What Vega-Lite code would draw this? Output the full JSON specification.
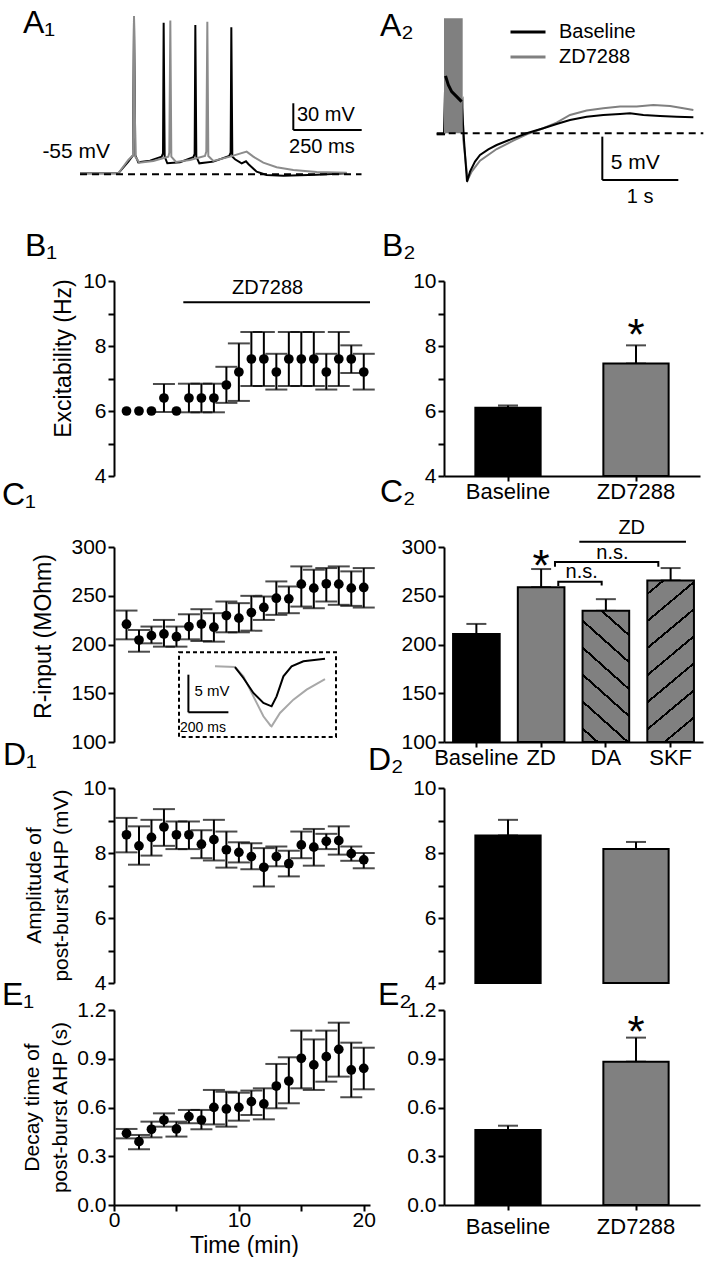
{
"$schema":"https://vega.github.io/schema/vega-lite/v6.json",
"background":"white",
"padding":{"left":2,"top":6,"right":0,"bottom":0},
"config":{
 "font":"Liberation Sans",
 "view":{"stroke":null},
 "axis":{"domainColor":"black","domainWidth":2,"tickColor":"black","tickWidth":2,"tickSize":6,"labelFontSize":21,"labelColor":"black","labelPadding":2,"titleFontSize":23,"titleColor":"black","titleFontWeight":"normal","grid":false,"labelFont":"Liberation Sans","titleFont":"Liberation Sans"},
 "title":{"fontSize":32,"fontWeight":"normal","anchor":"start","color":"black","font":"Liberation Sans","frame":"group","offset":0},
 "text":{"font":"Liberation Sans","color":"black"},
 "legend":{"labelFont":"Liberation Sans","labelColor":"black"}
},
"bounds":"flush",
"align":"each",
"columns":2,
"spacing":{"row":0,"column":74},
"concat":[
 {"width":256,"height":150,
  "title":{"text":"A₁","dx":-91,"dy":57,"baseline":"alphabetic"},
  "encoding":{
   "x":{"field":"t","type":"quantitative","scale":{"domain":[124.4,1061.1],"nice":false,"zero":false},"axis":null},
   "y":{"field":"v","type":"quantitative","scale":{"domain":[-72.66,96.07],"nice":false,"zero":false},"axis":null}},
  "layer":[
   {"data":{"values":[{"t":0,"v":-53.88},{"t":140.2,"v":-53.88},{"t":176.8,"v":-40.75},{"t":193.9,"v":-33.63},{"t":197.6,"v":120.5},{"t":202.4,"v":-33.63},{"t":213.4,"v":-41.5},{"t":256.1,"v":-39.63},{"t":298.8,"v":-35.13},{"t":303.7,"v":-31.38},{"t":306.1,"v":115.6},{"t":309.8,"v":-35.13},{"t":319.5,"v":-42.63},{"t":365.9,"v":-41.5},{"t":414.6,"v":-35.88},{"t":419.5,"v":-32.13},{"t":422,"v":113.0},{"t":425.6,"v":-35.13},{"t":436.6,"v":-42.63},{"t":487.8,"v":-40.75},{"t":546.3,"v":-34.38},{"t":551.2,"v":-30.63},{"t":553.7,"v":110.4},{"t":557.3,"v":-35.13},{"t":567.1,"v":-38.13},{"t":591.5,"v":-42.63},{"t":607.3,"v":-40.38},{"t":615.9,"v":-43.38},{"t":646.3,"v":-52.0},{"t":682.9,"v":-55.75},{"t":743.9,"v":-56.5},{"t":865.9,"v":-55.38},{"t":975.6,"v":-53.88}]},
    "mark":{"type":"line","color":"black","strokeWidth":2}},
   {"data":{"values":[{"t":0,"v":-53.88},{"t":140.2,"v":-53.88},{"t":176.8,"v":-38.88},{"t":193.9,"v":-33.63},{"t":197.6,"v":123.1},{"t":202.4,"v":-35.13},{"t":217.1,"v":-41.88},{"t":268.3,"v":-40.0},{"t":323.2,"v":-35.13},{"t":326.8,"v":-30.63},{"t":330.5,"v":117.9},{"t":334.1,"v":-35.13},{"t":351.2,"v":-41.13},{"t":402.4,"v":-38.88},{"t":457.3,"v":-34.38},{"t":462.2,"v":-29.5},{"t":465.9,"v":116.7},{"t":469.5,"v":-34.38},{"t":487.8,"v":-40.0},{"t":548.8,"v":-35.13},{"t":609.8,"v":-29.5},{"t":634.1,"v":-35.13},{"t":670.7,"v":-41.88},{"t":719.5,"v":-47.13},{"t":780.5,"v":-50.13},{"t":865.9,"v":-52.38},{"t":975.6,"v":-53.13}]},
    "mark":{"type":"line","color":"#8c8c8c","strokeWidth":2}},
   {"data":{"values":[{"t":0,"t2":1030,"v":-55}]},"mark":{"type":"rule","color":"black","strokeWidth":2,"strokeDash":[7,5]},"encoding":{"x2":{"field":"t2"}}},
   {"data":{"values":[{"t":780.5,"v":24.9,"t2":780.5,"v2":-5.2},{"t":780.5,"v":-5.2,"t2":1030.7,"v2":-5.2}]},"mark":{"type":"rule","color":"black","strokeWidth":2},"encoding":{"x2":{"field":"t2"},"y2":{"field":"v2"}}},
   {"data":{"values":[{"t":110,"v":-29.9,"label":"-55 mV"}]},"mark":{"type":"text","align":"right","baseline":"middle","fontSize":21},"encoding":{"text":{"field":"label","type":"nominal"}}},
   {"data":{"values":[{"t":794,"v":11.7,"label":"30 mV"}]},"mark":{"type":"text","align":"left","baseline":"middle","fontSize":20},"encoding":{"text":{"field":"label","type":"nominal"}}},
   {"data":{"values":[{"t":885,"v":-24,"label":"250 ms"}]},"mark":{"type":"text","align":"center","baseline":"middle","fontSize":20},"encoding":{"text":{"field":"label","type":"nominal"}}}
  ]},
 {"width":260,"height":150,
  "title":{"text":"A₂","dx":-64,"dy":54,"baseline":"alphabetic"},
  "encoding":{
   "x":{"field":"t","type":"quantitative","scale":{"domain":[0,3.421],"nice":false,"zero":false},"axis":null},
   "y":{"field":"v","type":"quantitative","scale":{"domain":[-6.54,10.76],"nice":false,"zero":false},"axis":null}},
  "layer":[
   {"data":{"values":[
     {"cond":"ZD7288","t":-0.096,"v":-0.115},{"cond":"ZD7288","t":0,"v":-0.115},{"cond":"ZD7288","t":0.246,"v":3.85},{"cond":"ZD7288","t":0.254,"v":-0.77},{"cond":"ZD7288","t":0.311,"v":-5.38},{"cond":"ZD7288","t":0.364,"v":-4.42},{"cond":"ZD7288","t":0.474,"v":-3.15},{"cond":"ZD7288","t":0.693,"v":-1.81},{"cond":"ZD7288","t":0.912,"v":-0.85},{"cond":"ZD7288","t":1.088,"v":-0.115},{"cond":"ZD7288","t":1.307,"v":0.58},{"cond":"ZD7288","t":1.482,"v":1.23},{"cond":"ZD7288","t":1.658,"v":2.12},{"cond":"ZD7288","t":1.877,"v":2.62},{"cond":"ZD7288","t":2.096,"v":2.88},{"cond":"ZD7288","t":2.316,"v":3.08},{"cond":"ZD7288","t":2.535,"v":3.08},{"cond":"ZD7288","t":2.754,"v":3.27},{"cond":"ZD7288","t":2.974,"v":3.15},{"cond":"ZD7288","t":3.149,"v":2.88},{"cond":"ZD7288","t":3.281,"v":2.69},
     {"cond":"Baseline","t":-0.096,"v":-0.115},{"cond":"Baseline","t":0,"v":-0.115},{"cond":"Baseline","t":0.0175,"v":6.62},{"cond":"Baseline","t":0.057,"v":5.58},{"cond":"Baseline","t":0.101,"v":4.81},{"cond":"Baseline","t":0.167,"v":4.23},{"cond":"Baseline","t":0.232,"v":3.65},{"cond":"Baseline","t":0.263,"v":-0.77},{"cond":"Baseline","t":0.303,"v":-5.58},{"cond":"Baseline","t":0.342,"v":-4.42},{"cond":"Baseline","t":0.408,"v":-3.27},{"cond":"Baseline","t":0.474,"v":-2.5},{"cond":"Baseline","t":0.583,"v":-1.85},{"cond":"Baseline","t":0.693,"v":-1.35},{"cond":"Baseline","t":0.912,"v":-0.58},{"cond":"Baseline","t":1.088,"v":0},{"cond":"Baseline","t":1.307,"v":0.58},{"cond":"Baseline","t":1.482,"v":1.08},{"cond":"Baseline","t":1.658,"v":1.54},{"cond":"Baseline","t":1.877,"v":1.92},{"cond":"Baseline","t":2.096,"v":2.12},{"cond":"Baseline","t":2.316,"v":2.23},{"cond":"Baseline","t":2.447,"v":2.31},{"cond":"Baseline","t":2.623,"v":2.12},{"cond":"Baseline","t":2.842,"v":2.0},{"cond":"Baseline","t":3.061,"v":1.92},{"cond":"Baseline","t":3.281,"v":1.85}]},
    "mark":{"type":"line","strokeWidth":2},
    "encoding":{"color":{"field":"cond","type":"nominal","scale":{"domain":["Baseline","ZD7288"],"range":["black","#808080"]},
      "legend":{"orient":"none","legendX":395,"legendY":-19,"title":null,"symbolType":"stroke","symbolSize":1225,"symbolStrokeWidth":3,"labelFontSize":20,"labelOffset":12,"clipHeight":22,"rowPadding":3,"padding":0}}}},
   {"data":{"values":[{"t":0,"t2":0.246,"v":0,"v2":13.27}]},"mark":{"type":"rect","color":"#808080"},"encoding":{"x2":{"field":"t2"},"y2":{"field":"v2"}}},
   {"data":{"values":[{"t":0.02,"v":6.62},{"t":0.057,"v":5.58},{"t":0.101,"v":4.81},{"t":0.167,"v":4.23},{"t":0.232,"v":3.65}]},"mark":{"type":"line","color":"black","strokeWidth":3}},
   {"data":{"values":[{"t":-0.096,"t2":3.412,"v":0}]},"mark":{"type":"rule","color":"black","strokeWidth":2,"strokeDash":[7,5]},"encoding":{"x2":{"field":"t2"}}},
   {"data":{"values":[{"t":2.083,"v":-0.385,"t2":2.083,"v2":-5.385},{"t":2.083,"v":-5.385,"t2":3.083,"v2":-5.385}]},"mark":{"type":"rule","color":"black","strokeWidth":2},"encoding":{"x2":{"field":"t2"},"y2":{"field":"v2"}}},
   {"data":{"values":[{"t":2.193,"v":-3.46,"label":"5 mV"}]},"mark":{"type":"text","align":"left","baseline":"middle","fontSize":21},"encoding":{"text":{"field":"label","type":"nominal"}}},
   {"data":{"values":[{"t":2.58,"v":-7.35,"label":"1 s"}]},"mark":{"type":"text","align":"center","baseline":"middle","fontSize":20},"encoding":{"text":{"field":"label","type":"nominal"}}}
  ]},
 {"width":256,"height":286,
  "title":{"text":"B₁","dx":-89,"dy":102,"baseline":"alphabetic"},
  "encoding":{
   "x":{"field":"t","type":"quantitative","scale":{"domain":[0,20.5],"nice":false,"zero":false},"axis":null},
   "y":{"field":"m","type":"quantitative","scale":{"domain":[4,10],"range":[286,91],"nice":false,"zero":false},
     "axis":{"values":[4,5,6,7,8,9,10],"labelExpr":"datum.value % 2 === 0 ? datum.label : ''","labelOverlap":false,"title":"Excitability (Hz)","titleX":-44,"titleY":168,"titleAlign":"center","titleBaseline":"alphabetic","titleAngle":-90}}},
  "layer":[
   {"data":{"values":[{"t":1,"m":6.0},{"t":2,"m":6.0},{"t":3,"m":6.0},{"t":4,"m":6.4,"lo":5.97,"hi":6.83},{"t":5,"m":6.0},{"t":6,"m":6.4,"lo":5.96,"hi":6.84},{"t":7,"m":6.4,"lo":5.96,"hi":6.84},{"t":8,"m":6.4,"lo":5.96,"hi":6.84},{"t":9,"m":6.8,"lo":6.25,"hi":7.36},{"t":10,"m":7.2,"lo":6.31,"hi":8.08},{"t":11,"m":7.6,"lo":6.77,"hi":8.43},{"t":12,"m":7.6,"lo":6.77,"hi":8.43},{"t":13,"m":7.2,"lo":6.66,"hi":7.76},{"t":14,"m":7.6,"lo":6.77,"hi":8.43},{"t":15,"m":7.6,"lo":6.77,"hi":8.43},{"t":16,"m":7.6,"lo":6.77,"hi":8.43},{"t":17,"m":7.2,"lo":6.66,"hi":7.76},{"t":18,"m":7.6,"lo":6.77,"hi":8.43},{"t":19,"m":7.6,"lo":7.17,"hi":8.02},{"t":20,"m":7.2,"lo":6.66,"hi":7.76}]},
    "layer":[
     {"transform":[{"filter":"isValid(datum.lo)"}],"mark":{"type":"errorbar","thickness":2,"color":"black","ticks":{"size":22,"thickness":2,"color":"black"}},
      "encoding":{"y":{"field":"lo","type":"quantitative","scale":{"domain":[4,10],"range":[286,91],"nice":false,"zero":false},
        "axis":{"values":[4,5,6,7,8,9,10],"labelExpr":"datum.value % 2 === 0 ? datum.label : ''","labelOverlap":false,"title":"Excitability (Hz)","titleX":-44,"titleY":168,"titleAlign":"center","titleBaseline":"alphabetic","titleAngle":-90}},"y2":{"field":"hi"}}},
     {"mark":{"type":"point","filled":true,"size":95,"color":"black","opacity":1}}
    ]},
   {"data":{"values":[{"t":5.55,"t2":20.5,"m":9.35}]},"mark":{"type":"rule","color":"black","strokeWidth":2},"encoding":{"x2":{"field":"t2"}}},
   {"data":{"values":[{"t":12.3,"m":9.78,"label":"ZD7288"}]},"mark":{"type":"text","fontSize":20,"baseline":"middle","align":"center"},"encoding":{"text":{"field":"label","type":"nominal"}}}
  ]},
 {"width":256,"height":286,
  "title":{"text":"B₂","dx":-62,"dy":102,"baseline":"alphabetic"},
  "data":{"values":[{"cond":"Baseline","m":6.1,"hi":6.17},{"cond":"ZD7288","m":7.46,"hi":8.02,"star":8.64}]},
  "layer":[
   {"mark":{"type":"errorbar","thickness":2,"color":"black","ticks":{"size":20,"thickness":2,"color":"black"}},
    "encoding":{"x":{"field":"cond","type":"nominal","scale":{"domain":["Baseline","ZD7288"],"paddingInner":0.49,"paddingOuter":0.245},
      "axis":{"title":null,"labelAngle":0,"labelFontSize":22,"labelPadding":0,"tickSize":5,"labelOverlap":false}},
     "y":{"field":"m","type":"quantitative","scale":{"domain":[4,10],"range":[286,91],"nice":false,"zero":false},
      "axis":{"values":[4,5,6,7,8,9,10],"labelExpr":"datum.value % 2 === 0 ? datum.label : ''","labelOverlap":false,"title":null}},"y2":{"field":"hi"}}},
   {"mark":{"type":"bar","stroke":"black","strokeWidth":2},
    "encoding":{"x":{"field":"cond","type":"nominal","scale":{"domain":["Baseline","ZD7288"],"paddingInner":0.49,"paddingOuter":0.245},
      "axis":{"title":null,"labelAngle":0,"labelFontSize":22,"labelPadding":0,"tickSize":5,"labelOverlap":false}},
     "y":{"field":"m","type":"quantitative","scale":{"domain":[4,10],"range":[286,91],"nice":false,"zero":false},
      "axis":{"values":[4,5,6,7,8,9,10],"labelExpr":"datum.value % 2 === 0 ? datum.label : ''","labelOverlap":false,"title":null}},
     "y2":{"datum":4},
     "fill":{"condition":{"test":"datum.cond === 'Baseline'","value":"black"},"value":"#808080"}}},
   {"transform":[{"filter":"isValid(datum.star)"}],"mark":{"type":"text","text":"*","fontSize":44,"baseline":"alphabetic","dy":25},
    "encoding":{"x":{"field":"cond","type":"nominal","scale":{"domain":["Baseline","ZD7288"],"paddingInner":0.49,"paddingOuter":0.245},
      "axis":{"title":null,"labelAngle":0,"labelFontSize":22,"labelPadding":0,"tickSize":5,"labelOverlap":false}},
     "y":{"field":"star","type":"quantitative","scale":{"domain":[4,10],"range":[286,91],"nice":false,"zero":false},
      "axis":{"values":[4,5,6,7,8,9,10],"labelExpr":"datum.value % 2 === 0 ? datum.label : ''","labelOverlap":false,"title":null}}}}
  ]},
 {"width":256,"height":266,
  "title":{"text":"C₁","dx":-112,"dy":65,"baseline":"alphabetic"},
  "resolve":{"scale":{"x":"independent","y":"independent"}},
  "layer":[
   {"data":{"values":[{"t":1,"m":220.8,"lo":205.3,"hi":234.8},{"t":2,"m":204.6,"lo":192.6,"hi":214.9},{"t":3,"m":209.1,"lo":201.2,"hi":218.4},{"t":4,"m":210.8,"lo":197.8,"hi":225.2},{"t":5,"m":208.0,"lo":197.8,"hi":218.4},{"t":6,"m":218.4,"lo":205.3,"hi":231.0},{"t":7,"m":221.0,"lo":203.6,"hi":236.2},{"t":8,"m":217.7,"lo":202.9,"hi":232.1},{"t":9,"m":229.7,"lo":212.5,"hi":244.1},{"t":10,"m":227.0,"lo":212.5,"hi":242.4},{"t":11,"m":232.8,"lo":214.2,"hi":249.9},{"t":12,"m":238.0,"lo":225.2,"hi":249.2},{"t":13,"m":247.5,"lo":230.4,"hi":264.7},{"t":14,"m":246.8,"lo":232.1,"hi":259.5},{"t":15,"m":261.9,"lo":238.9,"hi":280.1},{"t":16,"m":257.8,"lo":237.2,"hi":276.7},{"t":17,"m":262.3,"lo":244.1,"hi":278.4},{"t":18,"m":261.9,"lo":240.7,"hi":280.1},{"t":19,"m":257.8,"lo":239.6,"hi":275.0},{"t":20,"m":258.5,"lo":237.9,"hi":278.4}]},
    "encoding":{
     "x":{"field":"t","type":"quantitative","scale":{"domain":[0,20.5],"nice":false,"zero":false},"axis":null}},
    "layer":[
     {"mark":{"type":"errorbar","thickness":2,"color":"black","ticks":{"size":22,"thickness":2,"color":"black"}},
      "encoding":{"y":{"field":"lo","type":"quantitative","scale":{"domain":[100,300],"range":[266,71],"nice":false,"zero":false},
        "axis":{"values":[100,150,200,250,300],"labelOverlap":false,"title":"R-input (MOhm)","titleX":-64,"titleY":160,"titleAlign":"center","titleBaseline":"alphabetic","titleAngle":-90}},"y2":{"field":"hi"}}},
     {"mark":{"type":"point","filled":true,"size":95,"color":"black","opacity":1},
      "encoding":{"y":{"field":"m","type":"quantitative","scale":{"domain":[100,300],"range":[266,71],"nice":false,"zero":false},
        "axis":{"values":[100,150,200,250,300],"labelOverlap":false,"title":"R-input (MOhm)","titleX":-64,"titleY":160,"titleAlign":"center","titleBaseline":"alphabetic","titleAngle":-90}}}}
    ]},
   {"encoding":{
     "x":{"field":"ms","type":"quantitative","scale":{"domain":[-325,955],"nice":false,"zero":false},"axis":null},
     "y":{"field":"mv","type":"quantitative","scale":{"domain":[-0.667,25.333],"range":[266,71],"nice":false,"zero":false},"axis":null}},
    "layer":[
     {"data":{"values":[{"ms":0,"ms2":785,"mv":0,"mv2":11.29}]},"mark":{"type":"rect","fill":"transparent","stroke":"black","strokeWidth":2,"strokeDash":[4,3]},"encoding":{"x2":{"field":"ms2"},"y2":{"field":"mv2"}}},
     {"data":{"values":[{"ms":180,"mv":9.42},{"ms":280,"mv":9.33},{"ms":322,"mv":8.09},{"ms":372,"mv":5.42},{"ms":422,"mv":2.76},{"ms":458,"mv":1.51},{"ms":463,"mv":1.42},{"ms":505,"mv":3.2},{"ms":572,"mv":4.98},{"ms":638,"mv":6.31},{"ms":730,"mv":7.73}]},"mark":{"type":"line","color":"#a8a8a8","strokeWidth":2}},
     {"data":{"values":[{"ms":280,"mv":9.33},{"ms":322,"mv":7.87},{"ms":372,"mv":5.87},{"ms":422,"mv":4.53},{"ms":463,"mv":4.09},{"ms":488,"mv":5.42},{"ms":522,"mv":8.09},{"ms":563,"mv":9.42},{"ms":622,"mv":10.09},{"ms":730,"mv":10.44}]},"mark":{"type":"line","color":"black","strokeWidth":2}},
     {"data":{"values":[{"ms":47,"mv":8.31,"ms2":47,"mv2":3.29},{"ms":47,"mv":3.29,"ms2":247,"mv2":3.29}]},"mark":{"type":"rule","color":"black","strokeWidth":2},"encoding":{"x2":{"field":"ms2"},"y2":{"field":"mv2"}}},
     {"data":{"values":[{"ms":77,"mv":6.09,"label":"5 mV"}]},"mark":{"type":"text","align":"left","baseline":"middle","fontSize":15},"encoding":{"text":{"field":"label","type":"nominal"}}},
     {"data":{"values":[{"ms":5,"mv":1.2,"label":"200 ms"}]},"mark":{"type":"text","align":"left","baseline":"middle","fontSize":14},"encoding":{"text":{"field":"label","type":"nominal"}}}
    ]}
  ]},
 {"width":259,"height":266,
  "title":{"text":"C₂","dx":-64,"dy":62,"baseline":"alphabetic"},
  "resolve":{"scale":{"x":"independent","y":"independent"}},
  "layer":[
   {"data":{"values":[{"cond":"Baseline","m":210.8,"hi":221.1},{"cond":"ZD","m":258.8,"hi":277.4,"star":290.7},{"cond":"DA","m":234.5,"hi":246.5},{"cond":"SKF","m":265.7,"hi":278.4}]},
    "layer":[
     {"mark":{"type":"errorbar","thickness":2,"color":"black","ticks":{"size":20,"thickness":2,"color":"black"}},
      "encoding":{"x":{"field":"cond","type":"nominal","scale":{"domain":["Baseline","ZD","DA","SKF"],"paddingInner":0.28,"paddingOuter":0.14},
        "axis":{"title":null,"labelAngle":0,"labelFontSize":22,"labelPadding":0,"tickSize":5,"labelOverlap":false}},
       "y":{"field":"m","type":"quantitative","scale":{"domain":[100,300],"range":[266,71],"nice":false,"zero":false},"axis":{"values":[100,150,200,250,300],"labelOverlap":false,"title":null}},"y2":{"field":"hi"}}},
     {"transform":[{"filter":"datum.cond === 'Baseline' || datum.cond === 'ZD'"}],"mark":{"type":"bar","stroke":"black","strokeWidth":2},
      "encoding":{"x":{"field":"cond","type":"nominal","scale":{"domain":["Baseline","ZD","DA","SKF"],"paddingInner":0.28,"paddingOuter":0.14},
        "axis":{"title":null,"labelAngle":0,"labelFontSize":22,"labelPadding":0,"tickSize":5,"labelOverlap":false}},
       "y":{"field":"m","type":"quantitative","scale":{"domain":[100,300],"range":[266,71],"nice":false,"zero":false},"axis":{"values":[100,150,200,250,300],"labelOverlap":false,"title":null}},
       "y2":{"datum":100},
       "fill":{"condition":{"test":"datum.cond === 'Baseline'","value":"black"},"value":"#808080"}}},
     {"transform":[{"filter":"datum.cond === 'DA'"}],
      "mark":{"type":"bar","stroke":"black","strokeWidth":2,
       "fill":{"gradient":"linear","x1":0,"y1":1,"x2":0.38,"y2":-0.197,"stops":[
        {"offset":0,"color":"#808080"},{"offset":0.07,"color":"#808080"},{"offset":0.07,"color":"black"},{"offset":0.086,"color":"black"},{"offset":0.086,"color":"#808080"},
        {"offset":0.226,"color":"#808080"},{"offset":0.226,"color":"black"},{"offset":0.242,"color":"black"},{"offset":0.242,"color":"#808080"},
        {"offset":0.382,"color":"#808080"},{"offset":0.382,"color":"black"},{"offset":0.398,"color":"black"},{"offset":0.398,"color":"#808080"},
        {"offset":0.538,"color":"#808080"},{"offset":0.538,"color":"black"},{"offset":0.554,"color":"black"},{"offset":0.554,"color":"#808080"},
        {"offset":0.694,"color":"#808080"},{"offset":0.694,"color":"black"},{"offset":0.71,"color":"black"},{"offset":0.71,"color":"#808080"},
        {"offset":0.85,"color":"#808080"},{"offset":0.85,"color":"black"},{"offset":0.866,"color":"black"},{"offset":0.866,"color":"#808080"},
        {"offset":1,"color":"#808080"}]}},
      "encoding":{"x":{"field":"cond","type":"nominal","scale":{"domain":["Baseline","ZD","DA","SKF"],"paddingInner":0.28,"paddingOuter":0.14},
        "axis":{"title":null,"labelAngle":0,"labelFontSize":22,"labelPadding":0,"tickSize":5,"labelOverlap":false}},
       "y":{"field":"m","type":"quantitative","scale":{"domain":[100,300],"range":[266,71],"nice":false,"zero":false},"axis":{"values":[100,150,200,250,300],"labelOverlap":false,"title":null}},
       "y2":{"datum":100}}},
     {"transform":[{"filter":"datum.cond === 'SKF'"}],
      "mark":{"type":"bar","stroke":"black","strokeWidth":2,
       "fill":{"gradient":"linear","x1":0,"y1":0,"x2":0.283,"y2":1.173,"stops":[
        {"offset":0,"color":"#808080"},{"offset":0.061,"color":"#808080"},{"offset":0.061,"color":"black"},{"offset":0.074,"color":"black"},{"offset":0.074,"color":"#808080"},
        {"offset":0.196,"color":"#808080"},{"offset":0.196,"color":"black"},{"offset":0.209,"color":"black"},{"offset":0.209,"color":"#808080"},
        {"offset":0.331,"color":"#808080"},{"offset":0.331,"color":"black"},{"offset":0.344,"color":"black"},{"offset":0.344,"color":"#808080"},
        {"offset":0.466,"color":"#808080"},{"offset":0.466,"color":"black"},{"offset":0.479,"color":"black"},{"offset":0.479,"color":"#808080"},
        {"offset":0.601,"color":"#808080"},{"offset":0.601,"color":"black"},{"offset":0.614,"color":"black"},{"offset":0.614,"color":"#808080"},
        {"offset":0.736,"color":"#808080"},{"offset":0.736,"color":"black"},{"offset":0.749,"color":"black"},{"offset":0.749,"color":"#808080"},
        {"offset":0.871,"color":"#808080"},{"offset":0.871,"color":"black"},{"offset":0.884,"color":"black"},{"offset":0.884,"color":"#808080"},
        {"offset":1,"color":"#808080"}]}},
      "encoding":{"x":{"field":"cond","type":"nominal","scale":{"domain":["Baseline","ZD","DA","SKF"],"paddingInner":0.28,"paddingOuter":0.14},
        "axis":{"title":null,"labelAngle":0,"labelFontSize":22,"labelPadding":0,"tickSize":5,"labelOverlap":false}},
       "y":{"field":"m","type":"quantitative","scale":{"domain":[100,300],"range":[266,71],"nice":false,"zero":false},"axis":{"values":[100,150,200,250,300],"labelOverlap":false,"title":null}},
       "y2":{"datum":100}}},
     {"transform":[{"filter":"isValid(datum.star)"}],"mark":{"type":"text","text":"*","fontSize":44,"baseline":"alphabetic","dy":25},
      "encoding":{"x":{"field":"cond","type":"nominal","scale":{"domain":["Baseline","ZD","DA","SKF"],"paddingInner":0.28,"paddingOuter":0.14},
        "axis":{"title":null,"labelAngle":0,"labelFontSize":22,"labelPadding":0,"tickSize":5,"labelOverlap":false}},
       "y":{"field":"star","type":"quantitative","scale":{"domain":[100,300],"range":[266,71],"nice":false,"zero":false},"axis":{"values":[100,150,200,250,300],"labelOverlap":false,"title":null}}}}
    ]},
   {"encoding":{
     "x":{"field":"u","type":"quantitative","scale":{"domain":[0,4],"nice":false,"zero":false},"axis":null},
     "y":{"field":"val","type":"quantitative","scale":{"domain":[100,300],"range":[266,71],"nice":false,"zero":false},"axis":null}},
    "layer":[
     {"data":{"values":[
       {"b":1,"i":0,"u":1.765,"val":259.9},{"b":1,"i":1,"u":1.765,"val":264.4},{"b":1,"i":2,"u":2.435,"val":264.4},{"b":1,"i":3,"u":2.435,"val":260.4},
       {"b":2,"i":0,"u":1.714,"val":279.8},{"b":2,"i":1,"u":1.714,"val":284.6},{"b":2,"i":2,"u":3.31,"val":284.6},{"b":2,"i":3,"u":3.31,"val":279.8},
       {"b":3,"i":0,"u":2.09,"val":305.4},{"b":3,"i":1,"u":3.737,"val":305.4}]},
      "mark":{"type":"line","color":"black","strokeWidth":2},
      "encoding":{"detail":{"field":"b","type":"nominal"},"order":{"field":"i","type":"quantitative"}}},
     {"data":{"values":[{"u":2.127,"val":266.8,"label":"n.s."},{"u":2.602,"val":286.5,"label":"n.s."},{"u":2.899,"val":312.3,"label":"ZD"}]},
      "mark":{"type":"text","fontSize":20,"baseline":"alphabetic","align":"center","dy":-1},"encoding":{"text":{"field":"label","type":"nominal"}}}
    ]}
  ]},
 {"width":256,"height":241,
  "title":{"text":"D₁","dx":-111,"dy":59,"baseline":"alphabetic"},
  "data":{"values":[{"t":1,"m":8.56,"lo":8.02,"hi":9.08},{"t":2,"m":8.22,"lo":7.64,"hi":8.82},{"t":3,"m":8.48,"lo":7.92,"hi":9.02},{"t":4,"m":8.80,"lo":8.22,"hi":9.35},{"t":5,"m":8.56,"lo":8.12,"hi":8.97},{"t":6,"m":8.56,"lo":8.12,"hi":8.97},{"t":7,"m":8.27,"lo":7.84,"hi":8.70},{"t":8,"m":8.41,"lo":7.77,"hi":9.02},{"t":9,"m":8.10,"lo":7.55,"hi":8.66},{"t":10,"m":8.02,"lo":7.71,"hi":8.33},{"t":11,"m":7.89,"lo":7.50,"hi":8.30},{"t":12,"m":7.56,"lo":6.97,"hi":8.15},{"t":13,"m":7.89,"lo":7.59,"hi":8.20},{"t":14,"m":7.67,"lo":7.28,"hi":8.07},{"t":15,"m":8.25,"lo":7.84,"hi":8.66},{"t":16,"m":8.18,"lo":7.61,"hi":8.74},{"t":17,"m":8.36,"lo":8.12,"hi":8.59},{"t":18,"m":8.38,"lo":7.95,"hi":8.82},{"t":19,"m":7.98,"lo":7.76,"hi":8.20},{"t":20,"m":7.79,"lo":7.53,"hi":8.00}]},
  "encoding":{
   "x":{"field":"t","type":"quantitative","scale":{"domain":[0,20.5],"nice":false,"zero":false},"axis":null}},
  "layer":[
   {"mark":{"type":"errorbar","thickness":2,"color":"black","ticks":{"size":22,"thickness":2,"color":"black"}},
    "encoding":{"y":{"field":"lo","type":"quantitative","scale":{"domain":[4,10],"range":[241,46],"nice":false,"zero":false},
      "axis":{"values":[4,5,6,7,8,9,10],"labelExpr":"datum.value % 2 === 0 ? datum.label : ''","labelOverlap":false,"title":["Amplitude of","post-burst AHP (mV)"],"titleFontSize":21,"titleX":-74,"titleY":143,"titleLineHeight":27,"titleAlign":"center","titleBaseline":"alphabetic","titleAngle":-90}},"y2":{"field":"hi"}}},
   {"mark":{"type":"point","filled":true,"size":95,"color":"black","opacity":1},
    "encoding":{"y":{"field":"m","type":"quantitative","scale":{"domain":[4,10],"range":[241,46],"nice":false,"zero":false},
      "axis":{"values":[4,5,6,7,8,9,10],"labelExpr":"datum.value % 2 === 0 ? datum.label : ''","labelOverlap":false,"title":["Amplitude of","post-burst AHP (mV)"],"titleFontSize":21,"titleX":-74,"titleY":143,"titleLineHeight":27,"titleAlign":"center","titleBaseline":"alphabetic","titleAngle":-90}}}}
  ]},
 {"width":256,"height":241,
  "title":{"text":"D₂","dx":-76,"dy":64,"baseline":"alphabetic"},
  "data":{"values":[{"cond":"Baseline","m":8.54,"hi":9.02},{"cond":"ZD7288","m":8.12,"hi":8.34}]},
  "layer":[
   {"mark":{"type":"errorbar","thickness":2,"color":"black","ticks":{"size":20,"thickness":2,"color":"black"}},
    "encoding":{"x":{"field":"cond","type":"nominal","scale":{"domain":["Baseline","ZD7288"],"paddingInner":0.49,"paddingOuter":0.245},"axis":null},
     "y":{"field":"m","type":"quantitative","scale":{"domain":[4,10],"range":[241,46],"nice":false,"zero":false},
      "axis":{"values":[4,5,6,7,8,9,10],"labelExpr":"datum.value % 2 === 0 ? datum.label : ''","labelOverlap":false,"title":null}},"y2":{"field":"hi"}}},
   {"mark":{"type":"bar","stroke":"black","strokeWidth":2},
    "encoding":{"x":{"field":"cond","type":"nominal","scale":{"domain":["Baseline","ZD7288"],"paddingInner":0.49,"paddingOuter":0.245},"axis":null},
     "y":{"field":"m","type":"quantitative","scale":{"domain":[4,10],"range":[241,46],"nice":false,"zero":false},
      "axis":{"values":[4,5,6,7,8,9,10],"labelExpr":"datum.value % 2 === 0 ? datum.label : ''","labelOverlap":false,"title":null}},
     "y2":{"datum":4},
     "fill":{"condition":{"test":"datum.cond === 'Baseline'","value":"black"},"value":"#808080"}}}
  ]},
 {"width":256,"height":222,
  "title":{"text":"E₁","dx":-112,"dy":58,"baseline":"alphabetic"},
  "data":{"values":[{"t":1,"m":0.441,"lo":0.410,"hi":0.468},{"t":2,"m":0.390,"lo":0.343,"hi":0.431},{"t":3,"m":0.466,"lo":0.416,"hi":0.513},{"t":4,"m":0.523,"lo":0.482,"hi":0.564},{"t":5,"m":0.468,"lo":0.421,"hi":0.513},{"t":6,"m":0.544,"lo":0.503,"hi":0.585},{"t":7,"m":0.523,"lo":0.466,"hi":0.585},{"t":8,"m":0.601,"lo":0.496,"hi":0.708},{"t":9,"m":0.591,"lo":0.482,"hi":0.697},{"t":10,"m":0.601,"lo":0.519,"hi":0.691},{"t":11,"m":0.636,"lo":0.554,"hi":0.704},{"t":12,"m":0.622,"lo":0.527,"hi":0.718},{"t":13,"m":0.732,"lo":0.595,"hi":0.868},{"t":14,"m":0.763,"lo":0.626,"hi":0.909},{"t":15,"m":0.903,"lo":0.718,"hi":1.073},{"t":16,"m":0.862,"lo":0.708,"hi":1.019},{"t":17,"m":0.913,"lo":0.759,"hi":1.073},{"t":18,"m":0.958,"lo":0.790,"hi":1.122},{"t":19,"m":0.831,"lo":0.663,"hi":0.999},{"t":20,"m":0.841,"lo":0.712,"hi":0.968}]},
  "encoding":{
   "x":{"field":"t","type":"quantitative","scale":{"domain":[0,20.5],"nice":false,"zero":false},
    "axis":{"values":[0,5,10,15,20],"labelExpr":"datum.value % 10 === 0 ? datum.label : ''","labelOverlap":false,"labelFlush":false,"labelPadding":-2,"title":"Time (min)","titleX":130,"titleY":47,"titleAlign":"center","titleBaseline":"alphabetic"}}},
  "layer":[
   {"mark":{"type":"errorbar","thickness":2,"color":"black","ticks":{"size":22,"thickness":2,"color":"black"}},
    "encoding":{"y":{"field":"lo","type":"quantitative","scale":{"domain":[0,1.2],"range":[222,27],"nice":false,"zero":false},
      "axis":{"values":[0,0.3,0.6,0.9,1.2],"format":".1f","labelOverlap":false,"title":["Decay time of","post-burst AHP (s)"],"titleFontSize":21,"titleX":-76,"titleY":124,"titleLineHeight":28,"titleAlign":"center","titleBaseline":"alphabetic","titleAngle":-90}},"y2":{"field":"hi"}}},
   {"mark":{"type":"point","filled":true,"size":95,"color":"black","opacity":1},
    "encoding":{"y":{"field":"m","type":"quantitative","scale":{"domain":[0,1.2],"range":[222,27],"nice":false,"zero":false},
      "axis":{"values":[0,0.3,0.6,0.9,1.2],"format":".1f","labelOverlap":false,"title":["Decay time of","post-burst AHP (s)"],"titleFontSize":21,"titleX":-76,"titleY":124,"titleLineHeight":28,"titleAlign":"center","titleBaseline":"alphabetic","titleAngle":-90}}}}
  ]},
 {"width":256,"height":222,
  "title":{"text":"E₂","dx":-66,"dy":58,"baseline":"alphabetic"},
  "data":{"values":[{"cond":"Baseline","m":0.4615,"hi":0.488},{"cond":"ZD7288","m":0.882,"hi":1.03,"star":1.129}]},
  "layer":[
   {"mark":{"type":"errorbar","thickness":2,"color":"black","ticks":{"size":20,"thickness":2,"color":"black"}},
    "encoding":{"x":{"field":"cond","type":"nominal","scale":{"domain":["Baseline","ZD7288"],"paddingInner":0.49,"paddingOuter":0.245},
      "axis":{"title":null,"labelAngle":0,"labelFontSize":22,"labelPadding":6,"tickSize":5,"labelOverlap":false}},
     "y":{"field":"m","type":"quantitative","scale":{"domain":[0,1.2],"range":[222,27],"nice":false,"zero":false},
      "axis":{"values":[0,0.3,0.6,0.9,1.2],"format":".1f","labelOverlap":false,"title":null}},"y2":{"field":"hi"}}},
   {"mark":{"type":"bar","stroke":"black","strokeWidth":2},
    "encoding":{"x":{"field":"cond","type":"nominal","scale":{"domain":["Baseline","ZD7288"],"paddingInner":0.49,"paddingOuter":0.245},
      "axis":{"title":null,"labelAngle":0,"labelFontSize":22,"labelPadding":6,"tickSize":5,"labelOverlap":false}},
     "y":{"field":"m","type":"quantitative","scale":{"domain":[0,1.2],"range":[222,27],"nice":false,"zero":false},
      "axis":{"values":[0,0.3,0.6,0.9,1.2],"format":".1f","labelOverlap":false,"title":null}},
     "y2":{"datum":0},
     "fill":{"condition":{"test":"datum.cond === 'Baseline'","value":"black"},"value":"#808080"}}},
   {"transform":[{"filter":"isValid(datum.star)"}],"mark":{"type":"text","text":"*","fontSize":44,"baseline":"alphabetic","dy":25},
    "encoding":{"x":{"field":"cond","type":"nominal","scale":{"domain":["Baseline","ZD7288"],"paddingInner":0.49,"paddingOuter":0.245},
      "axis":{"title":null,"labelAngle":0,"labelFontSize":22,"labelPadding":6,"tickSize":5,"labelOverlap":false}},
     "y":{"field":"star","type":"quantitative","scale":{"domain":[0,1.2],"range":[222,27],"nice":false,"zero":false},
      "axis":{"values":[0,0.3,0.6,0.9,1.2],"format":".1f","labelOverlap":false,"title":null}}}}
  ]}
]
}
